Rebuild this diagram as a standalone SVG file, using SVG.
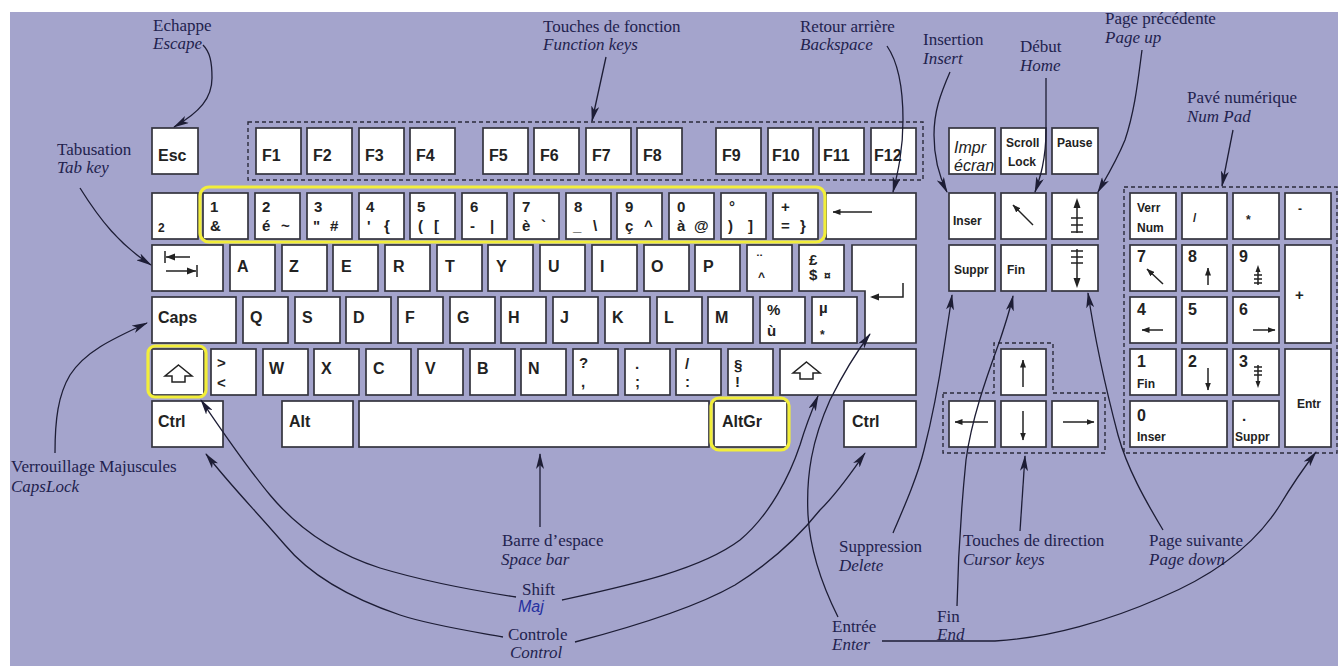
<svg xmlns="http://www.w3.org/2000/svg" width="1344" height="666" viewBox="0 0 1344 666">
<style>
.k{fill:#fff;stroke:#34343e;stroke-width:1.7}
.t{font-family:"Liberation Sans",Arial,sans-serif;font-weight:bold;font-size:16px;fill:#222}
.s{font-family:"Liberation Sans",Arial,sans-serif;font-weight:bold;font-size:15px;fill:#222}
.xs{font-family:"Liberation Sans",Arial,sans-serif;font-weight:bold;font-size:12px;fill:#222}
.it{font-family:"Liberation Sans",Arial,sans-serif;font-style:italic;font-size:16px;fill:#222}
.lb{font-family:"Liberation Serif","Times New Roman",serif;font-size:17px;fill:#22224e}
.li{font-family:"Liberation Serif","Times New Roman",serif;font-style:italic;font-size:17px;fill:#22224e}
.maj{font-family:"Liberation Sans",Arial,sans-serif;font-style:italic;font-size:16px;fill:#2630a0}
.c{fill:none;stroke:#1d1d35;stroke-width:1.3;marker-end:url(#ah)}
.ka{fill:none;stroke:#222;stroke-width:1.5}
.kam{fill:none;stroke:#222;stroke-width:1.5;marker-end:url(#sa)}
.d{fill:none;stroke:#2a2a3a;stroke-width:1.4;stroke-dasharray:4 3}
.y{fill:none;stroke:#f2ee3a;stroke-width:3.2}
</style>
<defs>
<marker id="ah" viewBox="0 0 16 8" refX="15" refY="4" markerWidth="16" markerHeight="8" markerUnits="userSpaceOnUse" orient="auto"><path d="M0,0 L16,4 L0,8 L4,4 z" fill="#1d1d35"/></marker>
<marker id="sa" viewBox="0 0 8 6" refX="7.5" refY="3" markerWidth="8" markerHeight="6" markerUnits="userSpaceOnUse" orient="auto"><path d="M0,0 L8,3 L0,6 z" fill="#222"/></marker>
</defs>
<rect x="0" y="0" width="1344" height="666" fill="#fff"/>
<rect x="10" y="12" width="1328" height="654" fill="#a4a4cc"/>

<g id="groups">
<rect class="d" x="248" y="122" width="675" height="58"/>
<path class="d" d="M943,393 L994,393 L994,343 L1053,343 L1053,393 L1105,393 L1105,453 L943,453 Z"/>
<rect class="d" x="1124" y="187" width="213" height="266"/>
</g>

<g id="key-esc"><rect class="k" x="152" y="128" width="46" height="46"/><text class="t" x="158" y="161">Esc</text></g>
<g id="key-f1"><rect class="k" x="256" y="128" width="45" height="46"/><text class="t" x="262" y="161">F1</text></g>
<g id="key-f2"><rect class="k" x="307" y="128" width="45" height="46"/><text class="t" x="313" y="161">F2</text></g>
<g id="key-f3"><rect class="k" x="359" y="128" width="45" height="46"/><text class="t" x="365" y="161">F3</text></g>
<g id="key-f4"><rect class="k" x="410" y="128" width="45" height="46"/><text class="t" x="416" y="161">F4</text></g>
<g id="key-f5"><rect class="k" x="483" y="128" width="45" height="46"/><text class="t" x="489" y="161">F5</text></g>
<g id="key-f6"><rect class="k" x="534" y="128" width="45" height="46"/><text class="t" x="540" y="161">F6</text></g>
<g id="key-f7"><rect class="k" x="586" y="128" width="45" height="46"/><text class="t" x="592" y="161">F7</text></g>
<g id="key-f8"><rect class="k" x="637" y="128" width="45" height="46"/><text class="t" x="643" y="161">F8</text></g>
<g id="key-f9"><rect class="k" x="716" y="128" width="45" height="46"/><text class="t" x="722" y="161">F9</text></g>
<g id="key-f10"><rect class="k" x="768" y="128" width="45" height="46"/><text class="t" x="772" y="161">F10</text></g>
<g id="key-f11"><rect class="k" x="819" y="128" width="45" height="46"/><text class="t" x="823" y="161">F11</text></g>
<g id="key-f12"><rect class="k" x="871" y="128" width="45" height="46"/><text class="t" x="874" y="161">F12</text></g>

<g id="key-sq"><rect class="k" x="152" y="193" width="46" height="46"/><text class="xs" x="158" y="232">2</text></g>
<g id="key-1"><rect class="k" x="203" y="193" width="45" height="46"/><text class="s" x="210" y="212">1</text><text class="s" x="210" y="231">&amp;</text></g>
<g id="key-2"><rect class="k" x="255" y="193" width="45" height="46"/><text class="s" x="262" y="212">2</text><text class="s" x="262" y="231">é</text><text class="s" x="281" y="231">~</text></g>
<g id="key-3"><rect class="k" x="307" y="193" width="45" height="46"/><text class="s" x="314" y="212">3</text><text class="s" x="313" y="231">"</text><text class="s" x="330" y="231">#</text></g>
<g id="key-4"><rect class="k" x="359" y="193" width="45" height="46"/><text class="s" x="366" y="212">4</text><text class="s" x="367" y="231">'</text><text class="s" x="384" y="231">{</text></g>
<g id="key-5"><rect class="k" x="410" y="193" width="45" height="46"/><text class="s" x="417" y="212">5</text><text class="s" x="418" y="231">(</text><text class="s" x="434" y="231">[</text></g>
<g id="key-6"><rect class="k" x="462" y="193" width="45" height="46"/><text class="s" x="470" y="212">6</text><text class="s" x="470" y="231">-</text><text class="s" x="490" y="231">|</text></g>
<g id="key-7"><rect class="k" x="514" y="193" width="45" height="46"/><text class="s" x="522" y="212">7</text><text class="s" x="522" y="231">è</text><text class="s" x="541" y="231">`</text></g>
<g id="key-8"><rect class="k" x="566" y="193" width="45" height="46"/><text class="s" x="574" y="212">8</text><text class="s" x="573" y="231">_</text><text class="s" x="593" y="231">\</text></g>
<g id="key-9"><rect class="k" x="617" y="193" width="45" height="46"/><text class="s" x="625" y="212">9</text><text class="s" x="625" y="231">ç</text><text class="s" x="644" y="231">^</text></g>
<g id="key-0"><rect class="k" x="669" y="193" width="45" height="46"/><text class="s" x="677" y="212">0</text><text class="s" x="677" y="231">à</text><text class="s" x="694" y="231">@</text></g>
<g id="key-deg"><rect class="k" x="721" y="193" width="45" height="46"/><text class="s" x="729" y="212">°</text><text class="s" x="728" y="231">)</text><text class="s" x="748" y="231">]</text></g>
<g id="key-plus"><rect class="k" x="773" y="193" width="45" height="46"/><text class="s" x="781" y="212">+</text><text class="s" x="781" y="231">=</text><text class="s" x="800" y="231">}</text></g>
<g id="key-backspace"><rect class="k" x="826" y="193" width="90" height="46"/><path class="kam" d="M872,212 L833,212"/></g>

<g id="key-tab"><rect class="k" x="152" y="245" width="71" height="46"/><path class="ka" d="M165,251 V263 M166,257 H190 M197,265 V277 M166,271 H196"/><path d="M166,257 L175,253.5 L175,260.5 Z M196,271 L187,267.5 L187,274.5 Z" fill="#222"/></g>
<g id="key-a"><rect class="k" x="230" y="245" width="45" height="46"/><text class="t" x="237" y="272">A</text></g>
<g id="key-z"><rect class="k" x="282" y="245" width="45" height="46"/><text class="t" x="289" y="272">Z</text></g>
<g id="key-e"><rect class="k" x="333" y="245" width="45" height="46"/><text class="t" x="341" y="272">E</text></g>
<g id="key-r"><rect class="k" x="385" y="245" width="45" height="46"/><text class="t" x="393" y="272">R</text></g>
<g id="key-t"><rect class="k" x="437" y="245" width="45" height="46"/><text class="t" x="445" y="272">T</text></g>
<g id="key-y"><rect class="k" x="488" y="245" width="45" height="46"/><text class="t" x="496" y="272">Y</text></g>
<g id="key-u"><rect class="k" x="540" y="245" width="45" height="46"/><text class="t" x="548" y="272">U</text></g>
<g id="key-i"><rect class="k" x="592" y="245" width="45" height="46"/><text class="t" x="600" y="272">I</text></g>
<g id="key-o"><rect class="k" x="644" y="245" width="45" height="46"/><text class="t" x="651" y="272">O</text></g>
<g id="key-p"><rect class="k" x="695" y="245" width="45" height="46"/><text class="t" x="703" y="272">P</text></g>
<g id="key-trema"><rect class="k" x="747" y="245" width="45" height="46"/><text class="s" x="757" y="265">¨</text><text class="xs" x="758" y="281">^</text></g>
<g id="key-pound"><rect class="k" x="799" y="245" width="45" height="46"/><text class="s" x="809" y="265">£</text><text class="s" x="809" y="280">$</text><text class="xs" x="824" y="280">¤</text></g>
<g id="key-enter"><path class="k" d="M852,245 H916 V343 H865 V291 H852 Z"/><path class="ka" d="M903,283 V297 H872"/><path d="M870,297 L879,293.5 L879,300.5 Z" fill="#222"/></g>

<g id="key-caps"><rect class="k" x="152" y="297" width="84" height="46"/><text class="t" x="158" y="323">Caps</text></g>
<g id="key-q"><rect class="k" x="243" y="297" width="45" height="46"/><text class="t" x="250" y="323">Q</text></g>
<g id="key-s"><rect class="k" x="295" y="297" width="45" height="46"/><text class="t" x="302" y="323">S</text></g>
<g id="key-d"><rect class="k" x="346" y="297" width="45" height="46"/><text class="t" x="353" y="323">D</text></g>
<g id="key-f"><rect class="k" x="398" y="297" width="45" height="46"/><text class="t" x="405" y="323">F</text></g>
<g id="key-g"><rect class="k" x="450" y="297" width="45" height="46"/><text class="t" x="457" y="323">G</text></g>
<g id="key-h"><rect class="k" x="501" y="297" width="45" height="46"/><text class="t" x="508" y="323">H</text></g>
<g id="key-j"><rect class="k" x="553" y="297" width="45" height="46"/><text class="t" x="560" y="323">J</text></g>
<g id="key-k"><rect class="k" x="605" y="297" width="45" height="46"/><text class="t" x="612" y="323">K</text></g>
<g id="key-l"><rect class="k" x="657" y="297" width="45" height="46"/><text class="t" x="664" y="323">L</text></g>
<g id="key-m"><rect class="k" x="708" y="297" width="45" height="46"/><text class="t" x="715" y="323">M</text></g>
<g id="key-pct"><rect class="k" x="760" y="297" width="45" height="46"/><text class="s" x="767" y="315">%</text><text class="s" x="767" y="336">ù</text></g>
<g id="key-mu"><rect class="k" x="812" y="297" width="45" height="46"/><text class="s" x="819" y="313">µ</text><text class="xs" x="820" y="339">*</text></g>

<g id="key-lshift"><rect class="k" x="152" y="349" width="52" height="46"/><path class="ka" d="M178.5,365 L192,376 H185 V382 H172 V376 H165 Z" stroke-width="1.2"/></g>
<g id="key-lt"><rect class="k" x="211" y="349" width="45" height="46"/><text class="s" x="217" y="368">&gt;</text><text class="s" x="217" y="388">&lt;</text></g>
<g id="key-w"><rect class="k" x="263" y="349" width="45" height="46"/><text class="t" x="269" y="374">W</text></g>
<g id="key-x"><rect class="k" x="314" y="349" width="45" height="46"/><text class="t" x="321" y="374">X</text></g>
<g id="key-c"><rect class="k" x="366" y="349" width="45" height="46"/><text class="t" x="373" y="374">C</text></g>
<g id="key-v"><rect class="k" x="418" y="349" width="45" height="46"/><text class="t" x="425" y="374">V</text></g>
<g id="key-b"><rect class="k" x="470" y="349" width="45" height="46"/><text class="t" x="477" y="374">B</text></g>
<g id="key-n"><rect class="k" x="521" y="349" width="45" height="46"/><text class="t" x="528" y="374">N</text></g>
<g id="key-comma"><rect class="k" x="573" y="349" width="45" height="46"/><text class="s" x="579" y="368">?</text><text class="s" x="581" y="387">,</text></g>
<g id="key-semi"><rect class="k" x="625" y="349" width="45" height="46"/><text class="s" x="635" y="369">.</text><text class="s" x="635" y="387">;</text></g>
<g id="key-colon"><rect class="k" x="676" y="349" width="45" height="46"/><text class="s" x="685" y="369">/</text><text class="s" x="685" y="387">:</text></g>
<g id="key-excl"><rect class="k" x="728" y="349" width="45" height="46"/><text class="s" x="734" y="370">§</text><text class="s" x="735" y="387">!</text></g>
<g id="key-rshift"><rect class="k" x="780" y="349" width="136" height="46"/><path class="ka" d="M806.5,362 L820,373 H813 V379 H800 V373 H793 Z" stroke-width="1.2"/></g>

<g id="key-lctrl"><rect class="k" x="152" y="401" width="71" height="46"/><text class="t" x="158" y="427">Ctrl</text></g>
<g id="key-alt"><rect class="k" x="282" y="401" width="71" height="46"/><text class="t" x="289" y="427">Alt</text></g>
<g id="key-space"><rect class="k" x="359" y="401" width="350" height="46"/></g>
<g id="key-altgr"><rect class="k" x="714" y="401" width="73" height="46"/><text class="t" x="722" y="427">AltGr</text></g>
<g id="key-rctrl"><rect class="k" x="844" y="401" width="72" height="46"/><text class="t" x="852" y="427">Ctrl</text></g>

<g id="highlights">
<rect class="y" x="200" y="187" width="625" height="55" rx="9"/>
<rect class="y" x="148" y="346" width="58" height="51" rx="7"/>
<rect class="y" x="711" y="398" width="78" height="52" rx="8"/>
</g>

<g id="key-impr"><rect class="k" x="949" y="128" width="46" height="46"/><text class="it" x="954" y="153">Impr</text><text class="it" x="954" y="171">écran</text></g>
<g id="key-scroll"><rect class="k" x="1001" y="128" width="45" height="46"/><text class="xs" x="1006" y="147">Scroll</text><text class="xs" x="1008" y="166">Lock</text></g>
<g id="key-pause"><rect class="k" x="1052" y="128" width="46" height="46"/><text class="xs" x="1057" y="147">Pause</text></g>
<g id="key-inser"><rect class="k" x="949" y="193" width="46" height="46"/><text class="xs" x="953" y="225">Inser</text></g>
<g id="key-home"><rect class="k" x="1001" y="193" width="45" height="46"/><path class="kam" d="M1033,225 L1013,205"/></g>
<g id="key-pgup"><rect class="k" x="1052" y="193" width="46" height="46"/><path class="ka" d="M1077,206 V233 M1071,218 H1083 M1071,225 H1083 M1071,232 H1083"/><path d="M1077,198 L1073.5,208 L1080.5,208 Z" fill="#222"/></g>
<g id="key-suppr"><rect class="k" x="949" y="245" width="46" height="46"/><text class="xs" x="954" y="274">Suppr</text></g>
<g id="key-fin"><rect class="k" x="1001" y="245" width="45" height="46"/><text class="xs" x="1007" y="274">Fin</text></g>
<g id="key-pgdn"><rect class="k" x="1052" y="245" width="46" height="46"/><path class="ka" d="M1077,249 V280 M1071,251 H1083 M1071,257 H1083 M1071,263 H1083"/><path d="M1077,288 L1073.5,278 L1080.5,278 Z" fill="#222"/></g>
<g id="key-up"><rect class="k" x="1001" y="349" width="45" height="46"/><path class="kam" d="M1023,387 L1023,360"/></g>
<g id="key-left"><rect class="k" x="949" y="401" width="46" height="46"/><path class="kam" d="M988,422 L955,422"/></g>
<g id="key-down"><rect class="k" x="1001" y="401" width="45" height="46"/><path class="kam" d="M1023,411 L1023,440"/></g>
<g id="key-right"><rect class="k" x="1052" y="401" width="46" height="46"/><path class="kam" d="M1063,422 L1094,422"/></g>

<g id="key-numlock"><rect class="k" x="1130" y="193" width="46" height="46"/><text class="xs" x="1137" y="212">Verr</text><text class="xs" x="1137" y="232">Num</text></g>
<g id="key-div"><rect class="k" x="1182" y="193" width="45" height="46"/><text class="xs" x="1193" y="222">/</text></g>
<g id="key-mul"><rect class="k" x="1233" y="193" width="46" height="46"/><text class="xs" x="1246" y="224">*</text></g>
<g id="key-minus"><rect class="k" x="1285" y="193" width="46" height="46"/><text class="xs" x="1298" y="213">-</text></g>
<g id="key-n7"><rect class="k" x="1130" y="245" width="46" height="46"/><text class="t" x="1137" y="262">7</text><path class="kam" d="M1163,284 L1147,269"/></g>
<g id="key-n8"><rect class="k" x="1182" y="245" width="45" height="46"/><text class="t" x="1188" y="262">8</text><path class="kam" d="M1208,285 L1208,268"/></g>
<g id="key-n9"><rect class="k" x="1233" y="245" width="46" height="46"/><text class="t" x="1239" y="262">9</text><path class="ka" d="M1258,270 V285 M1254,275 H1262 M1254,279 H1262 M1254,283 H1262" stroke-width="1.2"/><path d="M1258,265 L1255.5,272 L1260.5,272 Z" fill="#222"/></g>
<g id="key-plusnum"><rect class="k" x="1285" y="245" width="46" height="98"/><text class="s" x="1295" y="300">+</text></g>
<g id="key-n4"><rect class="k" x="1130" y="297" width="46" height="46"/><text class="t" x="1137" y="315">4</text><path class="kam" d="M1163,330 L1142,330"/></g>
<g id="key-n5"><rect class="k" x="1182" y="297" width="45" height="46"/><text class="t" x="1188" y="315">5</text></g>
<g id="key-n6"><rect class="k" x="1233" y="297" width="46" height="46"/><text class="t" x="1239" y="315">6</text><path class="kam" d="M1253,330 L1275,330"/></g>
<g id="key-n1"><rect class="k" x="1130" y="349" width="46" height="46"/><text class="t" x="1137" y="367">1</text><text class="xs" x="1137" y="388">Fin</text></g>
<g id="key-n2"><rect class="k" x="1182" y="349" width="45" height="46"/><text class="t" x="1188" y="367">2</text><path class="kam" d="M1208,368 L1208,390"/></g>
<g id="key-n3"><rect class="k" x="1233" y="349" width="46" height="46"/><text class="t" x="1239" y="367">3</text><path class="ka" d="M1258,365 V382 M1254,367 H1262 M1254,371 H1262 M1254,375 H1262" stroke-width="1.2"/><path d="M1258,388 L1255.5,381 L1260.5,381 Z" fill="#222"/></g>
<g id="key-entr"><rect class="k" x="1285" y="349" width="46" height="98"/><text class="xs" x="1297" y="408">Entr</text></g>
<g id="key-n0"><rect class="k" x="1130" y="401" width="97" height="46"/><text class="t" x="1137" y="421">0</text><text class="xs" x="1137" y="441">Inser</text></g>
<g id="key-dot"><rect class="k" x="1233" y="401" width="46" height="46"/><text class="s" x="1242" y="421">.</text><text class="xs" x="1235" y="441">Suppr</text></g>

<g id="lbl-escape"><text class="lb" x="153" y="31">Echappe</text><text class="li" x="153" y="49">Escape</text></g>
<g id="lbl-fkeys"><text class="lb" x="543" y="32">Touches de fonction</text><text class="li" x="543" y="50">Function keys</text></g>
<g id="lbl-backspace"><text class="lb" x="800" y="32">Retour arrière</text><text class="li" x="800" y="50">Backspace</text></g>
<g id="lbl-insert"><text class="lb" x="923" y="45">Insertion</text><text class="li" x="923" y="64">Insert</text></g>
<g id="lbl-home"><text class="lb" x="1020" y="52">Début</text><text class="li" x="1020" y="71">Home</text></g>
<g id="lbl-pgup"><text class="lb" x="1105" y="24">Page précédente</text><text class="li" x="1105" y="43">Page up</text></g>
<g id="lbl-numpad"><text class="lb" x="1187" y="103">Pavé numérique</text><text class="li" x="1187" y="122">Num Pad</text></g>
<g id="lbl-tab"><text class="lb" x="57" y="155">Tabusation</text><text class="li" x="57" y="173">Tab key</text></g>
<g id="lbl-caps"><text class="lb" x="11" y="472">Verrouillage Majuscules</text><text class="li" x="11" y="492">CapsLock</text></g>
<g id="lbl-space"><text class="lb" x="502" y="546">Barre d’espace</text><text class="li" x="501" y="565">Space bar</text></g>
<g id="lbl-shift"><text class="lb" x="522" y="595">Shift</text><text class="maj" x="518" y="612">Maj</text></g>
<g id="lbl-ctrl"><text class="lb" x="508" y="640">Controle</text><text class="li" x="510" y="658">Control</text></g>
<g id="lbl-delete"><text class="lb" x="839" y="552">Suppression</text><text class="li" x="839" y="571">Delete</text></g>
<g id="lbl-cursor"><text class="lb" x="963" y="546">Touches de direction</text><text class="li" x="963" y="565">Cursor keys</text></g>
<g id="lbl-pgdn"><text class="lb" x="1149" y="546">Page suivante</text><text class="li" x="1149" y="565">Page down</text></g>
<g id="lbl-end"><text class="lb" x="937" y="622">Fin</text><text class="li" x="937" y="640">End</text></g>
<g id="lbl-enter"><text class="lb" x="832" y="632">Entrée</text><text class="li" x="832" y="650">Enter</text></g>

<g id="connectors">
<path class="c" d="M203,45 C210,52 212,62 212,78 C212,98 200,112 174,127"/>
<path class="c" d="M606,57 L592,121"/>
<path class="c" d="M887,46 C898,62 903,85 903,120 C903,150 898,172 893,192"/>
<path class="c" d="M950,72 C940,95 934,112 934,135 C934,160 940,178 947,192"/>
<path class="c" d="M1046,78 L1046,130 C1046,160 1040,178 1035,192"/>
<path class="c" d="M1142,50 C1138,80 1135,110 1125,140 C1116,162 1106,178 1098,192"/>
<path class="c" d="M1233,130 L1222,186"/>
<path class="c" d="M80,188 C100,220 120,245 151,265"/>
<path class="c" d="M55,453 C55,420 58,395 70,375 C85,352 110,340 147,323"/>
<path class="c" d="M516,597 C470,590 420,580 380,568 C330,552 295,525 270,495 C245,465 225,435 201,400"/>
<path class="c" d="M503,637 C470,631 430,625 400,615 C350,598 310,575 285,545 C255,510 230,485 206,454"/>
<path class="c" d="M562,600 C630,585 700,570 740,540 C770,515 790,475 800,445 C806,425 812,410 818,396"/>
<path class="c" d="M575,642 C640,625 700,605 735,585 C775,560 800,535 820,510 C840,490 853,470 865,453"/>
<path class="c" d="M540,527 L540,454"/>
<path class="c" d="M838,617 C822,585 810,550 808,515 C806,475 812,440 830,400 C845,370 858,350 870,334"/>
<path class="c" d="M882,641 L995,641 C1050,638 1110,620 1160,598 C1215,575 1255,545 1280,505 C1295,480 1306,465 1316,452"/>
<path class="c" d="M893,533 C905,505 918,475 924,450 C933,415 940,375 944,348 C947,328 950,310 952,295"/>
<path class="c" d="M957,606 C958,560 961,510 966,460 C972,415 990,368 1000,340 C1005,325 1010,310 1013,296"/>
<path class="c" d="M1020,531 L1025,456"/>
<path class="c" d="M1163,530 C1145,500 1127,468 1118,435 C1108,397 1095,340 1088,293"/>
</g>
</svg>
